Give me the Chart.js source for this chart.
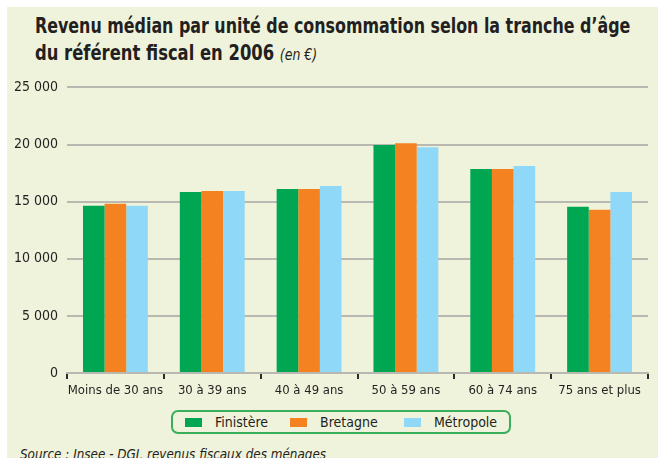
<!DOCTYPE html>
<html>
<head>
<meta charset="utf-8">
<script src="https://cdn.jsdelivr.net/npm/chart.js@4/dist/chart.umd.min.js"></script>
<style>
  html, body { margin: 0; padding: 0; background: #fff; overflow: hidden; }
  body { width: 658px; height: 458px; position: relative; font-family: "DejaVu Sans Condensed", "Liberation Sans", sans-serif; color: #231f20; }
  #panel { position: absolute; left: 7px; top: 7px; right: 0; bottom: 0; background: #f0f3dc; }
  .title { position: absolute; left: 35px; font-weight: bold; font-size: 21px; white-space: nowrap; transform-origin: left top; }
  #t1 { top: 14px; }
  #t2 { top: 41px; }
  #t2 i { font-weight: normal; font-size: 16px; }
  #chartWrap { position: absolute; left: 0; top: 70px; width: 658px; height: 340px; }
  #legend { position: absolute; left: 171px; top: 410px; width: 336px; height: 20px; border: 2px solid #3aae5a; border-radius: 7px; }
  .item { position: absolute; top: 1px; font-size: 14px; line-height: 18px; white-space: nowrap; }
  .item span.box { display: inline-block; width: 17px; height: 9px; margin-right: 13px; vertical-align: 0px; }
  #source { position: absolute; left: 20px; top: 446px; font-style: italic; font-size: 14px; white-space: nowrap; color: #231f20; transform-origin: left top; }
</style>
</head>
<body>
<div id="panel"></div>
<div class="title" id="t1">Revenu médian par unité de consommation selon la tranche d’âge</div>
<div class="title" id="t2">du référent fiscal en 2006 <i>(en €)</i></div>
<div id="chartWrap"><canvas id="chart" width="658" height="340"></canvas></div>
<div id="legend"></div>
<div id="source">Source : Insee - DGI, revenus fiscaux des ménages</div>
<script>
const categories = ['Moins de 30 ans', '30 à 39 ans', '40 à 49 ans', '50 à 59 ans', '60 à 74 ans', '75 ans et plus'];
const seriesNames = ['Finistère', 'Bretagne', 'Métropole'];
const finistere = [14630, 15850, 16110, 19950, 17860, 14550];
const bretagne = [14810, 15940, 16110, 20120, 17860, 14280];
const metropole = [14630, 15940, 16370, 19770, 18120, 15850];
const yTicks = [0, 5000, 10000, 15000, 20000, 25000];
const colors = ['#00a651', '#f58220', '#8fd8f8'];

// fit the text lines to the widths seen in the reference
function fitWidth(id, w) {
    const el = document.getElementById(id);
    const s = w / el.offsetWidth;
    el.style.transform = 'scaleX(' + s + ')';
}
fitWidth('t1', 595);
fitWidth('t2', 282);
fitWidth('source', 306);

const fmt = v => String(v).replace(/\B(?=(\d{3})+(?!\d))/g, ' ');
const axisFont = { family: '"DejaVu Sans Condensed", sans-serif', size: 13 };

const ctx = document.getElementById('chart').getContext('2d');
const chart = new Chart(ctx, {
    type: 'bar',
    data: {
        labels: categories,
        datasets: [finistere, bretagne, metropole].map((d, i) => ({
            label: seriesNames[i],
            data: d,
            backgroundColor: colors[i],
            borderWidth: 0,
            categoryPercentage: 0.67,
            barPercentage: 1
        }))
    },
    options: {
        responsive: false,
        animation: false,
        layout: { padding: { top: 16, right: 10, left: 0, bottom: 0 } },
        plugins: { legend: { display: false }, tooltip: { enabled: false } },
        scales: {
            x: {
                grid: { offset: true, drawOnChartArea: false, drawTicks: true, tickLength: 6, color: '#2b2b2b', lineWidth: 2 },
                border: { display: true, color: '#b9b9b1', width: 2 },
                ticks: { color: '#231f20', font: axisFont, padding: 4, maxRotation: 0, autoSkip: false },
                afterFit: s => { s.height = 37; }
            },
            y: {
                min: 0, max: 25000,
                afterBuildTicks: s => { s.ticks = yTicks.map(v => ({ value: v })); },
                grid: { color: '#b9b9b1', lineWidth: 2, drawTicks: false },
                border: { display: false },
                ticks: { color: '#231f20', font: { family: axisFont.family, size: 14 }, padding: 9, callback: v => fmt(v) },
                afterFit: s => { s.width = 67; }
            }
        }
    }
});

// legend built from the datasets
const legend = document.getElementById('legend');
const lefts = [12, 117, 231];
chart.data.datasets.forEach((ds, i) => {
    const it = document.createElement('div');
    it.className = 'item';
    it.style.left = lefts[i] + 'px';
    it.innerHTML = '<span class="box" style="background:' + ds.backgroundColor + '"></span>' + ds.label;
    legend.appendChild(it);
});
</script>
</body>
</html>
